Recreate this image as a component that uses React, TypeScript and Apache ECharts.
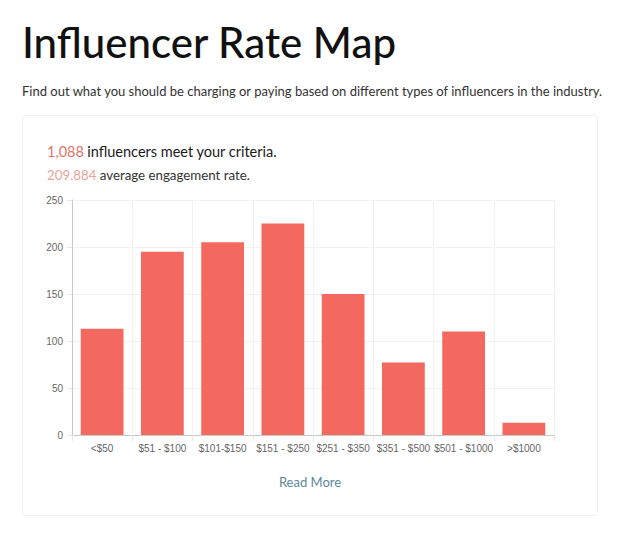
import React, { useEffect, useRef } from "react";
import * as echarts from "echarts";

const categories = ["<$50", "$51 - $100", "$101-$150", "$151 - $250", "$251 - $350", "$351 - $500", "$501 - $1000", ">$1000"];
const counts = [113, 195, 205, 225, 150, 77, 110, 13];
const yTicks = [0, 50, 100, 150, 200, 250];
const titleText = "Influencer Rate Map";
const subtitleText = "Find out what you should be charging or paying based on different types of influencers in the industry.";
const influencerCount = "1,088";
const engagementRate = "209.884";

export default function App() {
  const ref = useRef<HTMLDivElement>(null);
  useEffect(() => {
    const chart = echarts.init(ref.current!, null, { renderer: "svg" });
    const font = "Lato, 'Noto Sans', sans-serif";
    chart.setOption({
      animation: false,
      backgroundColor: "#ffffff",
      graphic: [
        {
          type: "rect",
          z: -10,
          shape: { x: 22.5, y: 115.5, width: 575, height: 400, r: 3 },
          style: { fill: "#ffffff", stroke: "#f0f0f0", lineWidth: 1 },
        },
        {
          type: "text",
          x: 22,
          y: 21,
          style: { text: titleText, font: `500 42px ${font}`, fill: "#111111" },
        },
        {
          type: "text",
          x: 22,
          y: 84,
          style: { text: subtitleText, font: `400 13px ${font}`, fill: "#333333" },
        },
        {
          type: "text",
          x: 47,
          y: 144,
          style: {
            text: `{n|${influencerCount}} {t|influencers meet your criteria.}`,
            rich: {
              n: { font: `400 14.5px ${font}`, fill: "#e0766c" },
              t: { font: `400 14.5px ${font}`, fill: "#1a1a1a" },
            },
          },
        },
        {
          type: "text",
          x: 47,
          y: 168,
          style: {
            text: `{n|${engagementRate}} {t|average engagement rate.}`,
            rich: {
              n: { font: `400 13.3px ${font}`, fill: "#e8a49b" },
              t: { font: `400 13.3px ${font}`, fill: "#333333" },
            },
          },
        },
        {
          type: "text",
          x: 310,
          y: 482,
          style: {
            text: "Read More",
            font: `400 13px ${font}`,
            fill: "#5a8a9a",
            align: "center",
            verticalAlign: "middle",
          },
        },
      ],
      grid: { left: 72, right: 66, top: 200, bottom: 99, containLabel: false },
      xAxis: {
        type: "category",
        data: categories,
        boundaryGap: true,
        axisLine: { show: true, lineStyle: { color: "#c8c8c8", width: 1 } },
        axisTick: { show: true, length: 6, lineStyle: { color: "#e6e6e6" } },
        axisLabel: {
          color: "#666666",
          fontSize: 10,
          fontFamily: "'Liberation Sans', Arial, sans-serif",
          margin: 8,
          interval: 0,
        },
        splitLine: { show: true, lineStyle: { color: "#f2f2f2", width: 1 } },
      },
      yAxis: {
        type: "value",
        min: yTicks[0],
        max: yTicks[yTicks.length - 1],
        interval: 50,
        axisLine: { show: true, lineStyle: { color: "#c8c8c8", width: 1 } },
        axisTick: { show: true, length: 5, lineStyle: { color: "#e6e6e6" } },
        axisLabel: {
          color: "#666666",
          fontSize: 10,
          fontFamily: "'Liberation Sans', Arial, sans-serif",
          margin: 9,
        },
        splitLine: { show: true, lineStyle: { color: "#f2f2f2", width: 1 } },
      },
      series: [
        {
          type: "bar",
          data: counts,
          barWidth: "71%",
          itemStyle: { color: "#f4695f" },
        },
      ],
    });
    return () => chart.dispose();
  }, []);
  return (
    <div
      ref={ref}
      style={{ position: "absolute", left: 0, top: 0, width: 620, height: 534 }}
    />
  );
}
